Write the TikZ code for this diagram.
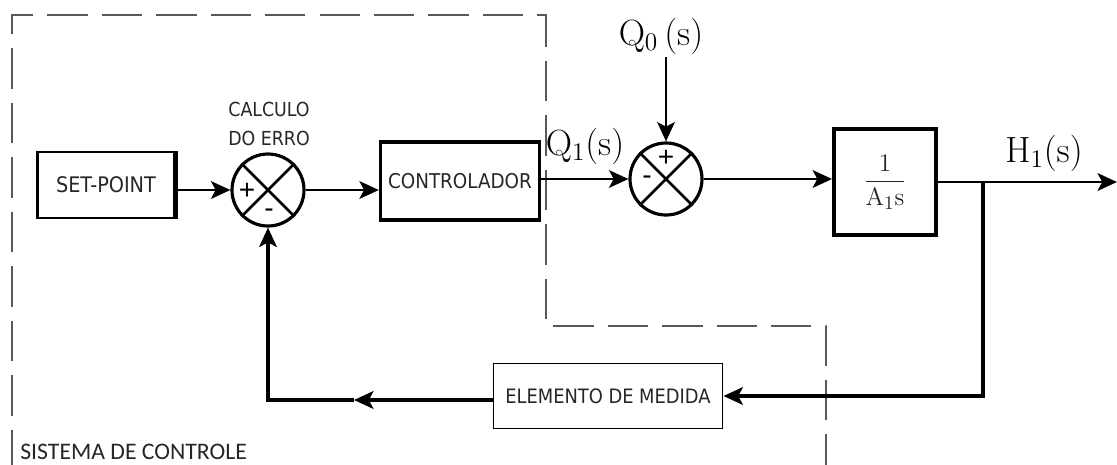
\documentclass[tikz,border=0pt]{standalone}
\usepackage[no-math]{fontspec}
\setmainfont{Liberation Sans}
\newfontfamily\calib{Carlito}
\newfontfamily\blkfont{DejaVu Sans Condensed}
\usetikzlibrary{arrows.meta}
\definecolor{txt}{gray}{0.15}
\definecolor{dsh}{gray}{0.35}
\tikzset{
  blk/.style={draw=black, rectangle, inner sep=0pt, text=txt},
  sumj/.style={draw=black, circle, line width=1.8pt, minimum size=72*0.02cm, inner sep=0pt},
  tip/.style={-{Stealth[length=11pt,width=10pt,inset=2.6pt]}},
  sig/.style={line width=1.7pt, tip},
  fb/.style={line width=2.3pt, tip},
  bound/.style={draw=dsh, line width=0.9pt, dash pattern=on 23pt off 8pt},
  lbl/.style={inner sep=0pt, text=txt},
  sgn/.style={inner sep=0pt, font=\fontsize{16}{16}\selectfont, text=black},
  mlbl/.style={inner sep=0pt, text=black, font=\fontsize{19.5}{20}\selectfont},
}
\begin{document}
\begin{tikzpicture}[x=0.02cm, y=-0.02cm]
\useasboundingbox (0,0) rectangle (1117,464);

% boundary of the control system
\draw[bound] (12,470) -- (12,15) -- (546,15) -- (546,326) -- (826,326) -- (826,470);
\node[lbl, anchor=base west, font=\calib\fontsize{13.5}{14}\selectfont] (sis) at (20,459) {SISTEMA DE CONTROLE};

% blocks
\node[blk, line width=1.3pt, minimum width=137*0.02cm, minimum height=66*0.02cm, font=\blkfont\fontsize{12.2}{13}\selectfont] (sp) at (106,185) {SET-POINT};
\draw[line width=2.6pt] (sp.north east) -- (sp.south east);
\node[sumj] (s1) at (268,190) {};
\draw[line width=1.6pt] (s1.45) -- (s1.225) (s1.135) -- (s1.315);
\node[sgn] (p1) at (247,191) {+};
\node[sgn] (m1) at (269,213) {-};
\node[lbl, align=center, font=\blkfont\fontsize{11}{16}\selectfont] (ce) at (269,124) {CALCULO\\DO ERRO};

\node[blk, line width=1.9pt, minimum width=159*0.02cm, minimum height=78*0.02cm, font=\blkfont\fontsize{11.6}{13}\selectfont] (ctrl) at (460,181) {CONTROLADOR};

\node[sumj] (s2) at (666,179) {};
\draw[line width=1.6pt] (s2.45) -- (s2.225) (s2.135) -- (s2.315);
\node[sgn] (p2) at (666,158) {+};
\node[sgn] (m2) at (647,180) {-};

\node[blk, line width=2.2pt, minimum width=102*0.02cm, minimum height=106*0.02cm, font=\fontsize{15.5}{17}\selectfont] (g) at (885,182) {$\displaystyle\frac{1}{\mathrm{A_1 s}}$};

\node[blk, line width=1.1pt, minimum width=229*0.02cm, minimum height=65*0.02cm, font=\blkfont\fontsize{11.3}{13}\selectfont] (em) at (608,396) {ELEMENTO DE MEDIDA};

% signal labels
\node[mlbl] (q0) at (661,36) {$\mathrm{Q_0\,(s)}$};
\node[mlbl] (q1) at (585,146) {$\mathrm{Q_1(s)}$};
\node[mlbl] (h1) at (1044,153) {$\mathrm{H_1(s)}$};

% connectors
\coordinate (out) at (1117,182);
\coordinate (br) at (983,182);
\coordinate (fbm) at (354,400);
\coordinate (q0s) at (666,57);

\draw[sig] (sp.east |- s1.west) -- (s1.west);
\draw[sig] (s1.east) -- (ctrl.west |- s1.east);
\draw[sig] (ctrl.east |- s2.west) -- (s2.west);
\draw[sig] (q0s) -- (s2.north);
\draw[sig] (s2.east) -- (g.west |- s2.east);
\draw[sig] (g.east) -- (out);
\draw[fb] (br) -- (br |- em.east) -- (em.east);
\draw[fb] (em.west |- fbm) -- (fbm);
\draw[fb] (fbm) -- (s1 |- fbm) -- (s1.south);
\end{tikzpicture}
\end{document}
